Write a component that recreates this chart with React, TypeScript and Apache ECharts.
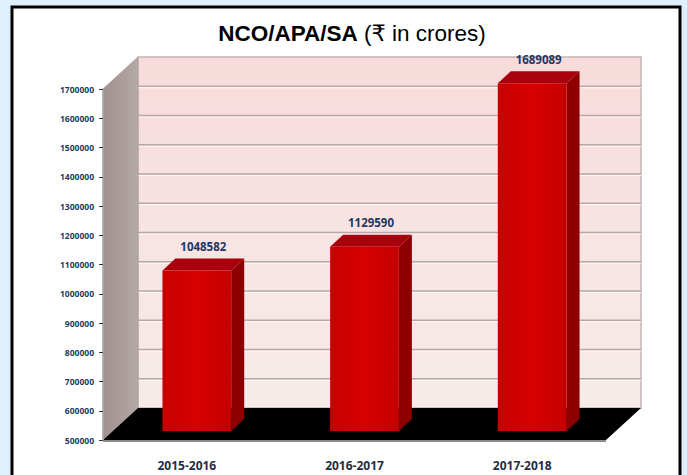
import React, { useEffect, useRef } from "react";
import * as echarts from "echarts";

const categories = ["2015-2016", "2016-2017", "2017-2018"];
const values = [1048582, 1129590, 1689089];
const yTicks = [500000, 600000, 700000, 800000, 900000, 1000000, 1100000, 1200000, 1300000, 1400000, 1500000, 1600000, 1700000];
const yMin = 500000;
const yMax = 1700000;
const yStep = 100000;

// 3D look (pixels)
const DX = 35;
const DY = 32;
const FX = 10;
const FY = 9;
const BDX = 13;
const BDY = 12;
const BAR_RATIO = 0.41;

export default function App() {
  const ref = useRef<HTMLDivElement>(null);
  useEffect(() => {
    if (!ref.current) return;
    const chart = echarts.init(ref.current, undefined, { renderer: "svg" });
    const option: any = {
      animation: false,
      backgroundColor: "#dfeffb",
      graphic: [
        {
          type: "rect",
          z: -10,
          shape: { x: 12, y: 7, width: 668, height: 480 },
          style: { fill: "#ffffff", stroke: "#000000", lineWidth: 3 },
        },
      ],
      title: {
        left: 347,
        top: 17,
        textAlign: "center",
        text: "{b|NCO/APA/SA}{n| (₹ in crores)}",
        textStyle: {
          rich: {
            b: { fontFamily: "'Liberation Sans', Arial, 'DejaVu Sans', sans-serif", fontWeight: "bold", fontSize: 22.5, color: "#000" },
            n: { fontFamily: "'Liberation Sans', Arial, 'DejaVu Sans', sans-serif", fontWeight: "normal", fontSize: 22.5, color: "#000" },
          },
        },
      },
      grid: { left: 103, right: 81, top: 89, bottom: 35, containLabel: false },
      xAxis: {
        type: "category",
        data: categories,
        axisLine: { show: false },
        axisTick: { show: false },
        axisLabel: {
          margin: 19,
          color: "#1f2d45",
          fontWeight: "bold",
          fontSize: 12,
          fontFamily: "'Open Sans', sans-serif",
        },
      },
      yAxis: {
        type: "value",
        min: yMin,
        max: yMax,
        interval: yStep,
        z: 5,
        axisLine: { show: true, lineStyle: { color: "#a8a8a8", width: 1.5 } },
        axisTick: { show: true, length: 4, lineStyle: { color: "#303030" } },
        splitLine: { show: false },
        axisLabel: {
          margin: 9,
          color: "#1f3864",
          fontWeight: "bold",
          fontSize: 8.5,
          fontFamily: "'Open Sans', sans-serif",
          formatter: (v: number) => String(v),
        },
      },
      series: [
        {
          type: "custom",
          z: 1,
          clip: false,
          silent: true,
          data: [[0, yMin]],
          renderItem: (params: any, api: any) => {
            const cs = params.coordSys;
            const x0 = cs.x;
            const x1 = cs.x + cs.width;
            const yT = cs.y;
            const yB = cs.y + cs.height;
            const children: any[] = [];
            children.push({
              type: "rect",
              shape: { x: x0 + DX, y: yT - DY, width: x1 - x0, height: yB - yT },
              style: {
                fill: new echarts.graphic.LinearGradient(0, 0, 0, 1, [
                  { offset: 0, color: "#f8dbdb" },
                  { offset: 1, color: "#f6ecea" },
                ]),
                stroke: "#c4b4b2",
                lineWidth: 1.5,
              },
            });
            yTicks.forEach((v) => {
              if (v === yMin || v === yMax) return;
              const y = api.coord([0, v])[1] - DY;
              children.push({
                type: "line",
                shape: { x1: x0 + DX, y1: y + 1.5, x2: x1 + DX, y2: y + 1.5 },
                style: { stroke: "#fffafa", lineWidth: 1 },
              });
              children.push({
                type: "line",
                shape: { x1: x0 + DX, y1: y, x2: x1 + DX, y2: y },
                style: { stroke: "#b9a7a5", lineWidth: 1.5 },
              });
            });
            children.push({
              type: "polygon",
              shape: { points: [[x0, yT], [x0 + DX, yT - DY], [x0 + DX, yB - DY], [x0, yB]] },
              style: {
                fill: new echarts.graphic.LinearGradient(0, 0, 1, 0, [
                  { offset: 0, color: "#a09190" },
                  { offset: 0.6, color: "#ab9e9c" },
                  { offset: 1, color: "#b5a9a7" },
                ]),
                stroke: "#b0a4a2",
                lineWidth: 1,
              },
            });
            children.push({
              type: "polygon",
              shape: { points: [[x0, yB], [x0 + DX, yB - DY], [x1 + DX, yB - DY], [x1, yB]] },
              style: { fill: "#000000" },
            });
            children.push({
              type: "line",
              shape: { x1: x0, y1: yB + 1, x2: x1, y2: yB + 1 },
              style: { stroke: "#8c8c8c", lineWidth: 2 },
            });
            return { type: "group", children };
          },
        },
        {
          type: "custom",
          z: 3,
          clip: false,
          data: values.map((v, i) => [i, v]),
          renderItem: (params: any, api: any) => {
            const idx = api.value(0);
            const val = api.value(1);
            const base = api.coord([idx, yMin]);
            const top = api.coord([idx, val]);
            const bandW = api.size([1, 0])[0];
            const bw = bandW * BAR_RATIO;
            const cx = base[0] + FX;
            const bx0 = cx - bw / 2;
            const bx1 = cx + bw / 2;
            const yT = top[1] - FY;
            const yB = base[1] - FY;
            return {
              type: "group",
              children: [
                {
                  type: "polygon",
                  shape: { points: [[bx1, yT], [bx1 + BDX, yT - BDY], [bx1 + BDX, yB - BDY], [bx1, yB]] },
                  style: { fill: "#8e0000" },
                },
                {
                  type: "polygon",
                  shape: { points: [[bx0, yT], [bx0 + BDX, yT - BDY], [bx1 + BDX, yT - BDY], [bx1, yT]] },
                  style: { fill: "#a8000c" },
                },
                {
                  type: "rect",
                  shape: { x: bx0, y: yT, width: bw, height: yB - yT },
                  style: {
                    fill: new echarts.graphic.LinearGradient(0, 0, 1, 0, [
                      { offset: 0, color: "#c80000" },
                      { offset: 0.5, color: "#d80000" },
                      { offset: 1, color: "#c40000" },
                    ]),
                  },
                },
                {
                  type: "text",
                  style: {
                    text: String(val),
                    x: cx + BDX / 2,
                    y: yT - BDY - 6,
                    align: "center",
                    verticalAlign: "bottom",
                    fontSize: 11.5,
                    fontWeight: "bold",
                    fontFamily: "'Open Sans', sans-serif",
                    fill: "#1f3864",
                  },
                },
              ],
            };
          },
        },
      ],
    };
    chart.setOption(option);
    return () => chart.dispose();
  }, []);
  return <div ref={ref} style={{ position: "absolute", left: 0, top: 0, width: 687, height: 475 }} />;
}
